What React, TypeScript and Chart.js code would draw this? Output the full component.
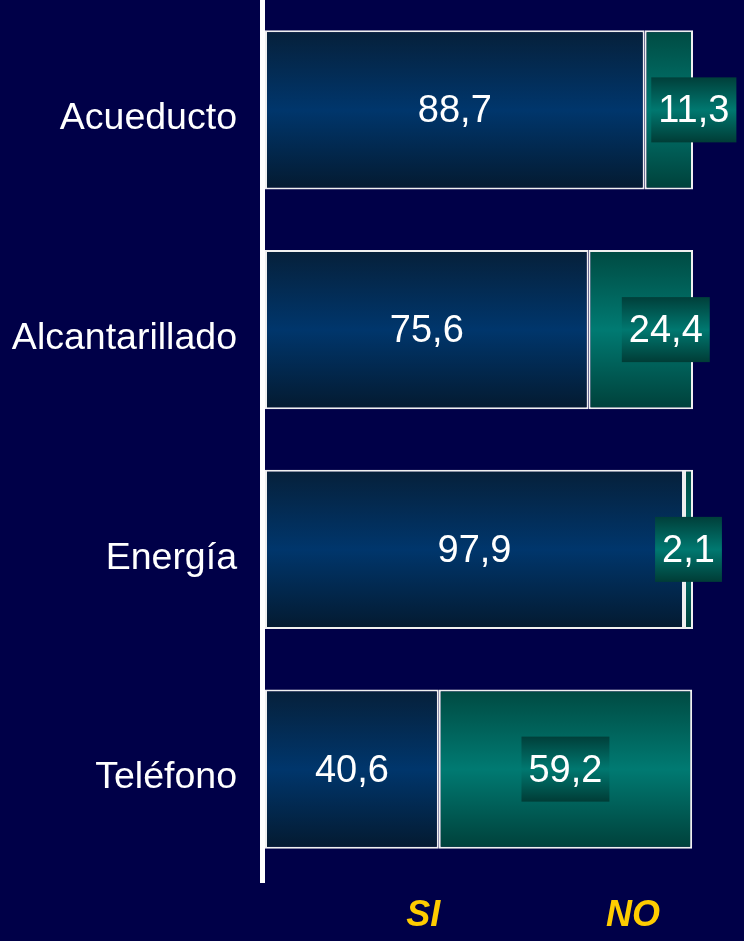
import { useEffect, useRef } from 'react';
import { Chart, registerables } from 'chart.js';

Chart.register(...registerables);

const categories = ['Acueducto', 'Alcantarillado', 'Energía', 'Teléfono'];
const siValues = [88.7, 75.6, 97.9, 40.6];
const noValues = [11.3, 24.4, 2.1, 59.2];
const seriesNames = ['SI', 'NO'];
const xMax = 100;

// layout / style config (not data)
const noLabelShift = [25, 25, 0, 0];
const legendAt = [37, 86];
const BG = '#000048';
const FONT = '"Liberation Sans", Arial, Helvetica, sans-serif';
const SI_STOPS = ['#06203a', '#00366c', '#041a30'];
const NO_STOPS = ['#004a42', '#007a72', '#00403a'];
const BAR_PCT = 0.724;

const fmt = (v: number) => v.toFixed(1).replace('.', ',');

function barGradient(ctx: any, stops: string[]) {
  const chart = ctx.chart;
  const y = chart.scales && chart.scales.y;
  if (!y || ctx.dataIndex == null || !chart.chartArea) return stops[1];
  const center = y.getPixelForValue(ctx.dataIndex);
  const band = chart.chartArea.height / categories.length;
  const half = (band * BAR_PCT) / 2;
  const g = chart.ctx.createLinearGradient(0, center - half, 0, center + half);
  g.addColorStop(0, stops[0]);
  g.addColorStop(0.5, stops[1]);
  g.addColorStop(1, stops[2]);
  return g;
}

const bgPlugin = {
  id: 'bg',
  beforeDraw(chart: any) {
    const c = chart.ctx;
    c.save();
    c.fillStyle = BG;
    c.fillRect(0, 0, chart.width, chart.height);
    c.restore();
  },
};

const axisPlugin = {
  id: 'axisLine',
  afterDatasetsDraw(chart: any) {
    const c = chart.ctx;
    const a = chart.chartArea;
    c.save();
    c.fillStyle = '#ffffff';
    c.fillRect(a.left - 5, 0, 5, a.bottom + 4);
    c.restore();
  },
};

const labelPlugin = {
  id: 'valueLabels',
  afterDatasetsDraw(chart: any) {
    const c = chart.ctx;
    c.save();
    c.font = `38px ${FONT}`;
    c.textAlign = 'center';
    c.textBaseline = 'middle';
    chart.getDatasetMeta(0).data.forEach((bar: any, i: number) => {
      const p = bar.getProps(['x', 'base', 'y'], true);
      c.fillStyle = '#ffffff';
      c.fillText(fmt(siValues[i]), (p.x + p.base) / 2, p.y + 2);
    });
    chart.getDatasetMeta(1).data.forEach((bar: any, i: number) => {
      const p = bar.getProps(['x', 'base', 'y'], true);
      const cx = (p.x + p.base) / 2 + noLabelShift[i];
      const text = fmt(noValues[i]);
      const w = c.measureText(text).width + 14;
      const h = 65;
      const g = c.createLinearGradient(0, p.y - h / 2, 0, p.y + h / 2);
      g.addColorStop(0, '#003f3a');
      g.addColorStop(0.5, '#007870');
      g.addColorStop(1, '#003c36');
      c.fillStyle = g;
      c.fillRect(cx - w / 2, p.y - h / 2, w, h);
      c.fillStyle = '#ffffff';
      c.fillText(text, cx, p.y + 2);
    });
    c.restore();
  },
};

const legendPlugin = {
  id: 'legendText',
  afterDraw(chart: any) {
    const c = chart.ctx;
    const xs = chart.scales.x;
    const yPos = chart.chartArea.bottom + 37;
    c.save();
    c.font = `italic bold 36px ${FONT}`;
    c.fillStyle = '#ffcc00';
    c.textAlign = 'center';
    c.textBaseline = 'middle';
    seriesNames.forEach((n, i) => {
      c.fillText(n, xs.getPixelForValue(legendAt[i]), yPos);
    });
    c.restore();
  },
};

export default function App() {
  const ref = useRef<HTMLCanvasElement>(null);

  useEffect(() => {
    if (!ref.current) return;
    const chart = new Chart(ref.current, {
      type: 'bar',
      data: {
        labels: categories,
        datasets: [
          {
            label: seriesNames[0],
            data: siValues,
            backgroundColor: (ctx: any) => barGradient(ctx, SI_STOPS),
            borderColor: '#f0f0f0',
            borderWidth: 2,
            borderSkipped: false,
            barPercentage: BAR_PCT,
            categoryPercentage: 1,
          },
          {
            label: seriesNames[1],
            data: noValues,
            backgroundColor: (ctx: any) => barGradient(ctx, NO_STOPS),
            borderColor: '#f0f0f0',
            borderWidth: 2,
            borderSkipped: false,
            barPercentage: BAR_PCT,
            categoryPercentage: 1,
          },
        ],
      },
      options: {
        indexAxis: 'y',
        animation: false,
        responsive: false,
        maintainAspectRatio: false,
        layout: { padding: { top: 0, right: 51, bottom: 62, left: 0 } },
        plugins: {
          legend: { display: false },
          tooltip: { enabled: false },
        },
        scales: {
          x: { stacked: true, min: 0, max: xMax, display: false },
          y: {
            stacked: true,
            grid: { display: false, drawTicks: false },
            border: { display: false },
            ticks: {
              color: '#ffffff',
              font: { family: FONT, size: 37.5 },
              padding: 28,
              labelOffset: 9,
            },
            afterFit(scale: any) {
              scale.width = 265;
              scale.paddingTop = 0;
              scale.paddingBottom = 0;
            },
          },
        },
      },
      plugins: [bgPlugin, labelPlugin, axisPlugin, legendPlugin],
    } as any);
    return () => chart.destroy();
  }, []);

  return (
    <div style={{ position: 'fixed', left: 0, top: 0, width: 744, height: 941, background: BG }}>
      <canvas ref={ref} width={744} height={941} style={{ display: 'block' }} />
    </div>
  );
}
